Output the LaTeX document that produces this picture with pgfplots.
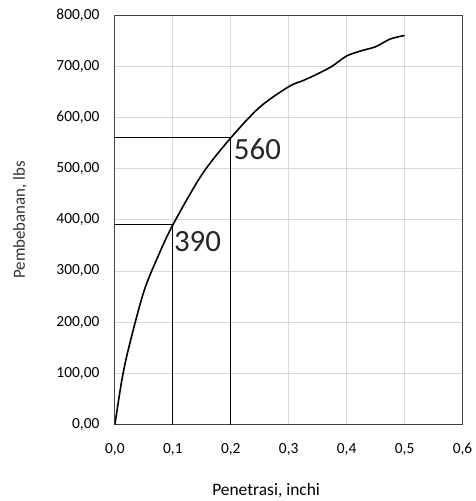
\documentclass[border=0pt]{standalone}
\usepackage{fontspec}
\setmainfont{Carlito}
\usepackage{pgfplots}
\pgfplotsset{compat=1.18}
\definecolor{gridc}{RGB}{217,217,217}
\begin{document}
\begin{tikzpicture}[x=1bp,y=1bp]
\begin{axis}[
  at={(0,0)}, anchor=south west,
  scale only axis, width=348bp, height=410bp,
  xmin=0, xmax=0.6, ymin=0, ymax=800,
  xtick={0,0.1,0.2,0.3,0.4,0.5,0.6},
  ytick={0,100,200,300,400,500,600,700,800},
  grid=major, major grid style={gridc, line width=0.8bp},
  major tick length=0pt,
  axis line style={black!75, line width=0.8bp},
  /pgf/number format/assume math mode=true,
  xticklabel style={/pgf/number format/fixed, /pgf/number format/fixed zerofill, /pgf/number format/precision=1, /pgf/number format/use comma, yshift=-15bp},
  yticklabel style={/pgf/number format/fixed, /pgf/number format/fixed zerofill, /pgf/number format/precision=2, /pgf/number format/use comma, xshift=-12bp},
  ticklabel style={font=\fontsize{15.5}{17}\selectfont, text=black},
  xlabel={Penetrasi, inchi}, ylabel={Pembebanan, lbs},
  xlabel style={at={(axis description cs:0.435,-0.161)}, anchor=center, font=\fontsize{17.5}{19}\selectfont, text=black},
  ylabel style={at={(axis description cs:-0.273,0.5)}, anchor=center, font=\fontsize{17}{19}\selectfont, text=black!80},
]
\addplot[black, line width=0.8bp] coordinates {(0.1,0) (0.1,390) (0,390)};
\addplot[black, line width=0.8bp] coordinates {(0.2,0) (0.2,560) (0,560)};
\addplot[black, line width=1.6bp, smooth, tension=0.5] coordinates {
(0,0) (0.0125,90) (0.025,155) (0.05,260) (0.075,330) (0.1,390) (0.15,488) (0.2,560)
(0.25,620) (0.3,660) (0.325,672) (0.35,685) (0.375,700) (0.4,720) (0.425,730)
(0.45,738) (0.475,753) (0.5,760)};
\node[anchor=north west, inner sep=0pt, font=\fontsize{31}{34}\selectfont, text=black!85, xshift=1bp, yshift=-6bp] at (axis cs:0.1,390) {390};
\node[anchor=north west, inner sep=0pt, font=\fontsize{31}{34}\selectfont, text=black!85, xshift=3bp, yshift=-1bp] at (axis cs:0.2,560) {560};
\end{axis}
\path (-115,-76) rectangle (360,425);
\end{tikzpicture}
\end{document}
